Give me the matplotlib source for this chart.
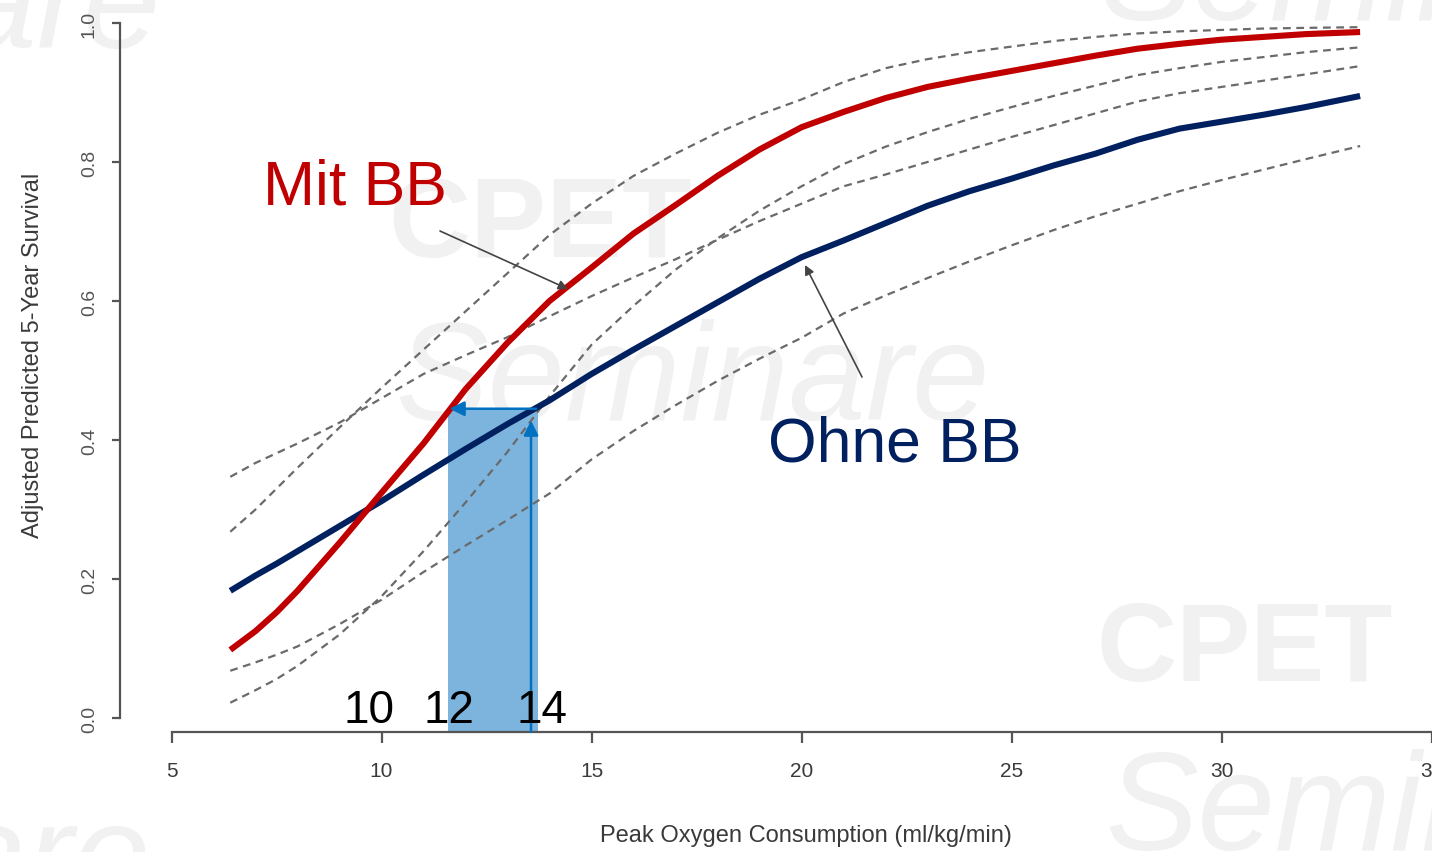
import matplotlib
matplotlib.use("Agg")
import matplotlib.pyplot as plt
from matplotlib.patches import Rectangle

# ---------------- data ----------------
vo2 = [6.4, 7, 7.5, 8, 9, 10, 11, 12, 13, 14, 15, 16, 17, 18, 19, 20, 21, 22, 23, 24,
       25, 26, 27, 28, 29, 30, 31, 32, 33.3]
mit_bb = [0.098, 0.125, 0.152, 0.183, 0.252, 0.324, 0.395, 0.473, 0.540, 0.600, 0.648,
          0.697, 0.738, 0.780, 0.818, 0.850, 0.872, 0.892, 0.908, 0.920, 0.931,
          0.942, 0.953, 0.963, 0.970, 0.976, 0.980, 0.984, 0.987]
mit_bb_upper = [0.268, 0.300, 0.330, 0.360, 0.418, 0.475, 0.530, 0.585, 0.640, 0.695, 0.740,
                0.780, 0.812, 0.842, 0.868, 0.890, 0.915, 0.935, 0.948, 0.958, 0.966,
                0.974, 0.980, 0.985, 0.988, 0.990, 0.992, 0.993, 0.994]
mit_bb_lower = [0.022, 0.040, 0.056, 0.075, 0.120, 0.175, 0.240, 0.310, 0.383, 0.463, 0.537,
                0.593, 0.645, 0.690, 0.730, 0.765, 0.797, 0.822, 0.843, 0.862, 0.879,
                0.895, 0.910, 0.925, 0.935, 0.944, 0.951, 0.958, 0.965]
ohne_bb = [0.183, 0.205, 0.222, 0.240, 0.276, 0.312, 0.350, 0.387, 0.423, 0.457, 0.495,
           0.530, 0.564, 0.598, 0.632, 0.663, 0.687, 0.712, 0.737, 0.758, 0.776,
           0.795, 0.812, 0.832, 0.848, 0.858, 0.868, 0.879, 0.895]
ohne_bb_upper = [0.347, 0.367, 0.381, 0.395, 0.425, 0.460, 0.495, 0.522, 0.548, 0.578, 0.607,
                 0.634, 0.660, 0.688, 0.715, 0.740, 0.765, 0.782, 0.800, 0.818, 0.836,
                 0.853, 0.870, 0.887, 0.899, 0.908, 0.917, 0.926, 0.938]
ohne_bb_lower = [0.068, 0.080, 0.091, 0.103, 0.135, 0.170, 0.210, 0.248, 0.285, 0.323, 0.372,
                 0.413, 0.450, 0.485, 0.517, 0.547, 0.582, 0.608, 0.633, 0.657, 0.680,
                 0.702, 0.722, 0.740, 0.758, 0.774, 0.789, 0.804, 0.823]

x_ticks = [5, 10, 15, 20, 25, 30, 35]
y_ticks = [0.0, 0.2, 0.4, 0.6, 0.8, 1.0]
y_tick_labels = ["0.0", "0.2", "0.4", "0.6", "0.8", "1.0"]
x_label = "Peak Oxygen Consumption (ml/kg/min)"
y_label = "Adjusted Predicted 5-Year Survival"
series_labels = ["Mit BB", "Ohne BB"]
marker_labels = ["10", "12", "14"]
marker_x = [9.70, 11.61, 13.82]
band_x = (11.58, 13.73)      # highlighted VO2 band
band_top = 0.445

RED = "#c00000"
NAVY = "#002060"
BLUE = "#0070c0"

# ---------------- figure ----------------
W, H = 1432, 853
fig = plt.figure(figsize=(W / 100, H / 100), dpi=100)
plt.rcParams["font.family"] = ["Liberation Sans", "DejaVu Sans"]

# pixel geometry of the reference: x=5 -> 171.5px, 42 px/unit ; y=0 -> 719px, 695 px/unit
def px_to_x(px):
    return 5 + (px - 171.5) / 42.0

def py_to_y(py):
    return (719 - py) / 695.0

left_px, right_px, top_px, bot_px = 110, 1432, 5, 748
ax = fig.add_axes([left_px / W, (H - bot_px) / H, (right_px - left_px) / W, (bot_px - top_px) / H])
ax.set_xlim(px_to_x(left_px), px_to_x(right_px))
ax.set_ylim(py_to_y(bot_px), py_to_y(top_px))
ax.patch.set_alpha(0)
ax.set_zorder(1)

# watermarks (very faint, behind the plot)
wm = "#f1f1f1"
narrow = ["Liberation Sans Narrow", "Liberation Sans"]
fig.text(540 / W, 1 - 228 / H, "CPET", fontsize=82, color=wm, weight="bold",
         family=narrow, ha="center", va="center", zorder=-5)
fig.text(1245 / W, 1 - 652 / H, "CPET", fontsize=80, color=wm, weight="bold",
         family=narrow, ha="center", va="center", zorder=-5)
fig.text(395 / W, 1 - 420 / H, "Seminare", fontsize=100, color=wm, style="italic",
         ha="left", va="baseline", zorder=-5)
fig.text(1105 / W, 1 - 850 / H, "Seminare", fontsize=100, color=wm, style="italic",
         ha="left", va="baseline", zorder=-5)
fig.text(160 / W, 1 - 48 / H, "Seminare", fontsize=100, color=wm, style="italic",
         ha="right", va="baseline", zorder=-5)
fig.text(150 / W, 1 - 800 / H, "Seminare", fontsize=100, color=wm, style="italic",
         ha="right", va="top", zorder=-5)
fig.text(1100 / W, 1 - 20 / H, "Seminare", fontsize=100, color=wm, style="italic",
         ha="left", va="baseline", zorder=-5)

# highlighted band
ax.add_patch(Rectangle((band_x[0], py_to_y(733)), band_x[1] - band_x[0],
                       band_top - py_to_y(733), facecolor="#7db4de", edgecolor="none",
                       zorder=2, clip_on=False))

# confidence bands (dashed)
dash = dict(color="#6a6a6a", lw=1.6, linestyle=(0, (3.5, 2.5)), zorder=3)
for band in (mit_bb_upper, mit_bb_lower, ohne_bb_upper, ohne_bb_lower):
    ax.plot(vo2, band, **dash)

# main curves
ax.plot(vo2, ohne_bb, color=NAVY, lw=4.4, solid_capstyle="butt", zorder=4)
ax.plot(vo2, mit_bb, color=RED, lw=4.4, solid_capstyle="butt", zorder=5)

# blue arrows on the band
ax.annotate("", xy=(13.56, 0.428), xytext=(13.56, py_to_y(733)),
            arrowprops=dict(arrowstyle="-|>", color=BLUE, lw=1.8, mutation_scale=22,
                            shrinkA=0, shrinkB=0), zorder=6, annotation_clip=False)
ax.annotate("", xy=(11.62, band_top), xytext=(13.68, band_top),
            arrowprops=dict(arrowstyle="-|>", color=BLUE, lw=1.8, mutation_scale=22,
                            shrinkA=0, shrinkB=0), zorder=6)

# pointer arrows
ax.annotate("", xy=(px_to_x(568), py_to_y(290)), xytext=(px_to_x(440), py_to_y(232)),
            arrowprops=dict(arrowstyle="-|>", color="#444444", lw=1.2, mutation_scale=14,
                            shrinkA=0, shrinkB=0), zorder=6)
ax.annotate("", xy=(px_to_x(805), py_to_y(266)), xytext=(px_to_x(862), py_to_y(378)),
            arrowprops=dict(arrowstyle="-|>", color="#444444", lw=1.2, mutation_scale=14,
                            shrinkA=0, shrinkB=0), zorder=6)

# series labels
ax.text(px_to_x(263), py_to_y(205), series_labels[0], fontsize=45, color=RED,
        ha="left", va="baseline", zorder=7)
ax.text(px_to_x(768), py_to_y(462), series_labels[1], fontsize=45, color=NAVY,
        ha="left", va="baseline", zorder=7)

# big VO2 marker numbers
for lab, xm in zip(marker_labels, marker_x):
    ax.text(xm, py_to_y(723), lab, fontsize=33, color="black", ha="center",
            va="baseline", zorder=7)

# axes in base-R style
for s in ("top", "right"):
    ax.spines[s].set_visible(False)
ax.spines["left"].set_position(("data", px_to_x(120)))
ax.spines["left"].set_bounds(0, 1)
ax.spines["bottom"].set_position(("data", py_to_y(733)))
ax.spines["bottom"].set_bounds(5, 35)
for s in ("left", "bottom"):
    ax.spines[s].set_color("#555555")
    ax.spines[s].set_linewidth(1.6)

ax.set_xticks(x_ticks)
ax.set_xticklabels([str(t) for t in x_ticks])
ax.set_yticks(y_ticks)
ax.set_yticklabels(y_tick_labels, rotation=90, va="center")
ax.tick_params(axis="x", length=8, width=1.6, color="#555555", labelsize=15,
               labelcolor="#3a3a3a", pad=13)
ax.tick_params(axis="y", length=6, width=1.6, color="#555555", labelsize=14,
               labelcolor="#555555", pad=10)

fig.text(806 / W, 1 - 836 / H, x_label, fontsize=17, color="#3a3a3a", ha="center", va="center")
fig.text(33 / W, 1 - 355 / H, y_label, fontsize=17, color="#3a3a3a", ha="center", va="center",
         rotation=90)

fig.savefig("out.png", dpi=100)
